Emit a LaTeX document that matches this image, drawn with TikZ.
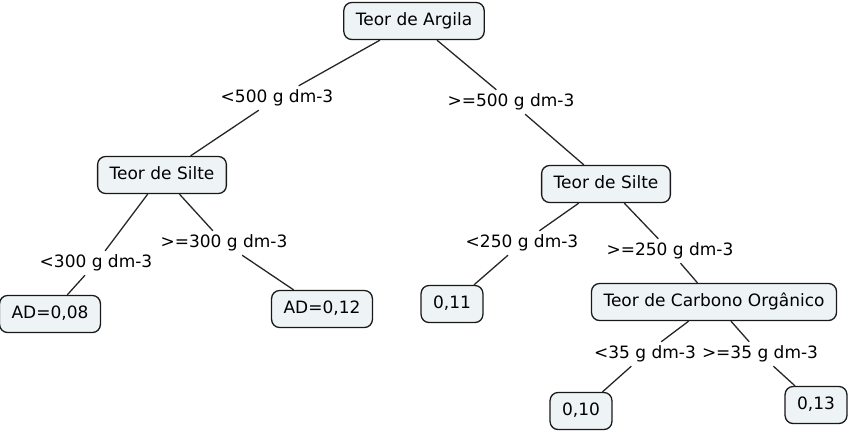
\documentclass[tikz,border=0pt]{standalone}
\usepackage{fontspec}
\setmainfont{DejaVu Sans}
\definecolor{fundo}{RGB}{238,244,246}
\tikzset{
  caixa/.style={draw=black!90, fill=fundo, rounded corners=8pt, line width=1.3pt,
    inner xsep=12pt, inner ysep=0pt, minimum height=37pt, text height=12.5pt, text depth=3.5pt},
  rotulo/.style={inner sep=4pt, text height=12.5pt, text depth=3.5pt},
  ramo/.style={line width=1.3pt, black!85}
}

\begin{document}
\begin{tikzpicture}[x=1pt, y=-1pt, font=\fontsize{17}{20}\selectfont]
        \useasboundingbox (0,0) rectangle (850,432);
        % caixas
        \node [caixa] (argila) at (414,21) {Teor de Argila};
        \node [caixa] (silteA) at (162,175) {Teor de Silte};
        \node [caixa] (silteB) at (606,184) {Teor de Silte};
        \node [caixa] (ad08) at (50,314) {AD=0,08};
        \node [caixa] (ad12) at (322,309) {AD=0,12};
        \node [caixa] (v11) at (452,304) {0,11};
        \node [caixa] (carbono) at (714,302) {Teor de Carbono Orgânico};
        \node [caixa] (v10) at (581,411) {0,10};
        \node [caixa] (v13) at (816,405) {0,13};
        % rotulos
        \node [rotulo] (r500a) at (277,98) {<500 g dm-3};
        \node [rotulo] (r500b) at (511,102) {>=500 g dm-3};
        \node [rotulo] (r300a) at (96,263) {<300 g dm-3};
        \node [rotulo] (r300b) at (224,243) {>=300 g dm-3};
        \node [rotulo] (r250a) at (522,243) {<250 g dm-3};
        \node [rotulo] (r250b) at (670,251) {>=250 g dm-3};
        \node [rotulo] (r35a) at (645,354) {<35 g dm-3};
        \node [rotulo] (r35b) at (760,354) {>=35 g dm-3};
        % ramos
        \draw [ramo] (argila) -- (r500a) -- (silteA);
        \draw [ramo] (argila) -- (r500b) -- (silteB);
        \draw [ramo] (silteA) -- (r300a) -- (ad08);
        \draw [ramo] (silteA) -- (r300b) -- (ad12);
        \draw [ramo] (silteB) -- (r250a) -- (v11);
        \draw [ramo] (silteB) -- (r250b) -- (carbono);
        \draw [ramo] (carbono) -- (r35a) -- (v10);
        \draw [ramo] (carbono) -- (r35b) -- (v13);
    \end{tikzpicture}
\end{document}
